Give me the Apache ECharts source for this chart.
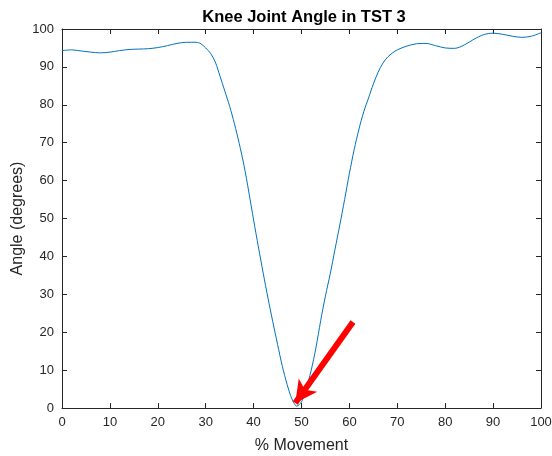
<!DOCTYPE html>
<html>
<head>
<meta charset="utf-8">
<script src="https://cdn.jsdelivr.net/npm/echarts@6/dist/echarts.min.js"></script>
<style>
html,body{margin:0;padding:0;background:#fff;}
#chart{width:552px;height:456px;}
</style>
</head>
<body>
<div id="chart"></div>
<script>
// % Movement (x) and knee angle in degrees (y)
const movement = [0, 2, 4, 6, 8, 10, 12, 14, 16, 18, 20, 22, 24, 26, 28, 29, 30, 31, 32, 33, 34, 35, 36, 37, 38, 39, 40, 41, 42, 43, 44, 45, 46, 47, 48, 49, 50, 51, 52, 53, 54, 55, 56, 57, 58, 59, 60, 61, 62, 63, 64, 65, 66, 67, 68, 69, 70, 72, 74, 76, 78, 80, 82, 84, 86, 88, 90, 92, 94, 96, 98, 100];
const angle = [94.3, 94.5, 94.2, 93.9, 93.7, 93.9, 94.3, 94.6, 94.7, 94.8, 95.1, 95.6, 96.2, 96.5, 96.5, 96.1, 95.0, 93.6, 91.3, 87.5, 83.6, 79.6, 75.0, 69.8, 64.0, 57.0, 49.6, 42.5, 35.6, 29.0, 22.8, 16.8, 11.0, 6.2, 2.4, 0.5, 1.6, 5.2, 9.8, 15.8, 23.0, 29.6, 35.4, 41.9, 48.3, 55.0, 61.9, 68.2, 73.6, 78.2, 81.8, 85.5, 88.6, 91.0, 92.6, 93.7, 94.5, 95.5, 96.1, 96.2, 95.6, 95.0, 94.9, 95.8, 97.3, 98.5, 98.9, 98.6, 98.1, 97.8, 98.1, 99.0];
// annotation arrow (start, tip) in data coordinates
const arrowStart = [60.75, 22.7];
const arrowEnd = [48.7, 1.3];
const xTicks = [0, 100, 10];
const yTicks = [0, 100, 10];

const FONT = '"Liberation Sans", Arial, Helvetica, sans-serif';
const AX = '#262626';

const chart = echarts.init(document.getElementById('chart'), null, {renderer: 'canvas'});
const baseAxis = {
  type: 'value',
  axisLine: {show: true, onZero: false, lineStyle: {color: AX, width: 1}},
  axisTick: {show: true, inside: true, length: 5, lineStyle: {color: AX}},
  splitLine: {show: false},
  axisLabel: {color: AX, fontSize: 13, fontFamily: FONT, margin: 8}
};
chart.setOption({
  animation: false,
  backgroundColor: '#fff',
  title: {
    text: 'Knee Joint Angle in TST 3',
    left: 299, top: 4, textAlign: 'center',
    textStyle: {fontFamily: FONT, fontSize: 16.5, fontWeight: 'bold', color: '#000'}
  },
  grid: {left: 62, right: 11, top: 29, bottom: 48, containLabel: false, outerBoundsMode: 'none'},
  xAxis: [
    Object.assign({}, baseAxis, {
      position: 'bottom', min: xTicks[0], max: xTicks[1], interval: xTicks[2],
      name: '% Movement', nameLocation: 'middle', nameGap: 30, nameMoveOverlap: false,
      nameTextStyle: {color: AX, fontSize: 16, fontFamily: FONT}
    }),
    Object.assign({}, baseAxis, {
      position: 'top', min: xTicks[0], max: xTicks[1], interval: xTicks[2],
      axisLabel: {show: false}
    })
  ],
  yAxis: [
    Object.assign({}, baseAxis, {
      position: 'left', min: yTicks[0], max: yTicks[1], interval: yTicks[2],
      name: 'Angle (degrees)', nameLocation: 'middle', nameGap: 36, nameRotate: 90, nameMoveOverlap: false,
      nameTextStyle: {color: AX, fontSize: 16, fontFamily: FONT}
    }),
    Object.assign({}, baseAxis, {
      position: 'right', min: yTicks[0], max: yTicks[1], interval: yTicks[2],
      axisLabel: {show: false}
    })
  ],
  series: [{
    type: 'line',
    xAxisIndex: 0, yAxisIndex: 0,
    data: movement.map((x, i) => [x, angle[i]]),
    smooth: 0.3,
    symbol: 'none',
    lineStyle: {color: '#0072BD', width: 1},
    markLine: {
      silent: true,
      animation: false,
      label: {show: false},
      symbol: ['none', 'arrow'],
      symbolSize: [17, 22],
      lineStyle: {color: '#ff0000', width: 6, type: 'solid', cap: 'butt'},
      data: [[{coord: arrowStart}, {coord: arrowEnd}]]
    }
  }]
});
</script>
</body>
</html>
